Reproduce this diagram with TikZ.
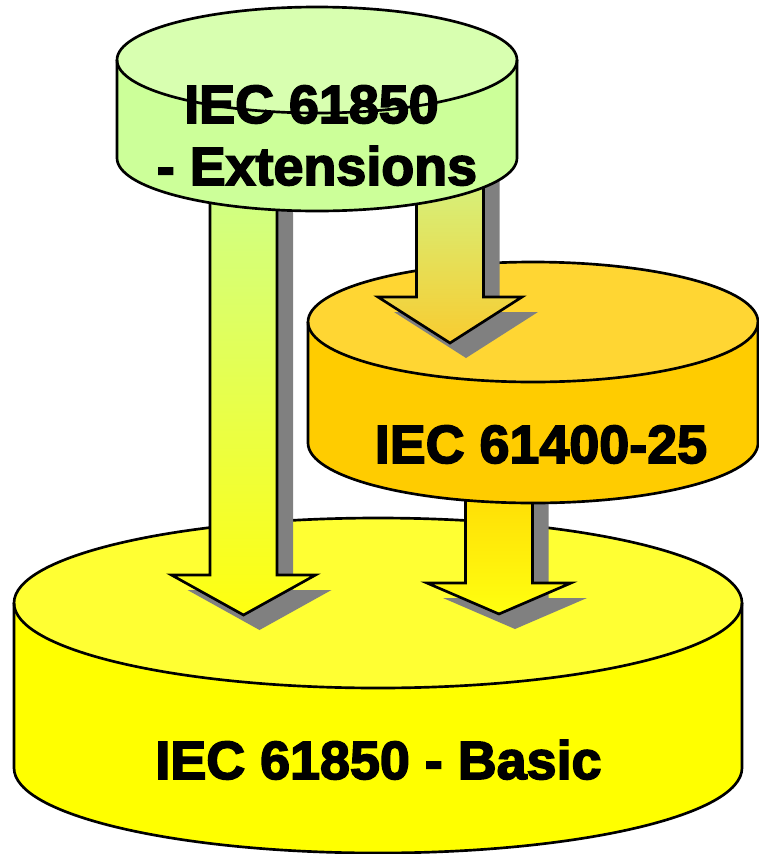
\documentclass[tikz,border=0pt]{standalone}
\usepackage{fontspec}
\setmainfont{Liberation Sans}
\newfontfamily\lblfont[FakeBold=3]{Liberation Sans Bold}
\definecolor{shadowgray}{HTML}{808080}
\definecolor{extside}{HTML}{CCFF99}
\definecolor{exttop}{HTML}{D8FFB0}
\definecolor{orside}{HTML}{FFCC00}
\definecolor{ortop}{HTML}{FFD633}
\definecolor{baside}{HTML}{FFFF00}
\definecolor{batop}{HTML}{FFFF33}
\definecolor{agreen}{HTML}{C8FF99}
\definecolor{ayellow}{HTML}{FFFF10}
\definecolor{aorange}{HTML}{FFCC00}
\definecolor{amid}{HTML}{F8CC30}
\newcommand\mycylfill[7]{%
  \fill[#6] (#1-#4,#2) -- (#1-#4,#3) arc[start angle=180,end angle=0,x radius=#4,y radius=#5] -- (#1+#4,#2) -- cycle;
  \fill[#7] (#1,#2) ellipse[x radius=#4,y radius=#5];
}
\newcommand\mycylline[5]{%
  \draw[outline] (#1-#4,#2) -- (#1-#4,#3) arc[start angle=180,end angle=0,x radius=#4,y radius=#5] -- (#1+#4,#2);
  \draw[outline] (#1,#2) ellipse[x radius=#4,y radius=#5];
}
% #1 cx, #2 top, #3 head line, #4 tip, #5 top colour, #6 bottom colour
\newcommand\myblockarrow[6]{%
  \fill[shadowgray,shift={(16,15)}] (#1-33.5,#2) -- (#1-33.5,#3) -- (#1-72,#3) -- (#1,#4) -- (#1+72,#3) -- (#1+33.5,#3) -- (#1+33.5,#2) -- cycle;
  \draw[outline,top color=#5,bottom color=#6] (#1-33.5,#2) -- (#1-33.5,#3) -- (#1-72,#3) -- (#1,#4) -- (#1+72,#3) -- (#1+33.5,#3) -- (#1+33.5,#2) -- cycle;
}
\begin{document}
\begin{tikzpicture}[x=0.75pt,y=-0.75pt,
  outline/.style={draw=black,line width=2pt,line join=miter},
  lbl/.style={font=\lblfont\fontsize{40.4}{48}\selectfont,text=black,inner sep=0pt,anchor=base}]
\useasboundingbox (0,0) rectangle (758,854);
% Basic cylinder
\mycylfill{378}{603}{768}{364}{85}{baside}{batop}
\mycylline{378}{603}{768}{364}{85}
\node[lbl] (basic) at (378.5,779) {IEC 61850 - Basic};
% arrow from IEC 61400-25 to Basic
\myblockarrow{499}{430}{583}{614}{aorange}{ayellow}
% arrow from Extensions to Basic
\myblockarrow{243.5}{120}{575}{615}{agreen}{ayellow}
% IEC 61400-25 cylinder
\mycylfill{533}{322}{443}{225}{60}{orside}{ortop}
\mycylline{533}{322}{443}{225}{60}
\node[lbl] (iec25) at (541,463) {IEC 61400-25};
% arrow from Extensions to IEC 61400-25
\myblockarrow{450}{120}{297}{343}{agreen}{amid}
% Extensions cylinder
\mycylfill{317}{60}{158}{200}{53}{extside}{exttop}
\node[lbl] (ext1) at (311.5,123) {IEC 61850};
\node[lbl] (ext2) at (317,185) {- Extensions};
\mycylline{317}{60}{158}{200}{53}
\end{tikzpicture}
\end{document}
